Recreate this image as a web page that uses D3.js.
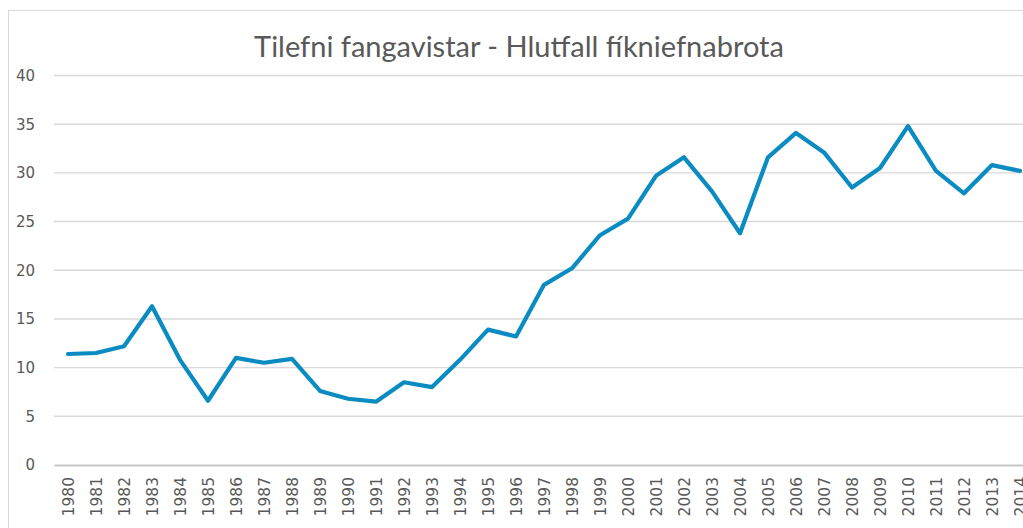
<!DOCTYPE html>
<html>
<head>
<meta charset="utf-8">
<script src="https://cdn.jsdelivr.net/npm/d3@7"></script>
<style>
  html, body { margin: 0; padding: 0; background: #fff; overflow: hidden; }
  svg { display: block; }
</style>
</head>
<body>
<svg id="chart" width="1023" height="528"></svg>
<script>
const title = "Tilefni fangavistar - Hlutfall fíkniefnabrota";
const years = ["1980","1981","1982","1983","1984","1985","1986","1987","1988","1989",
  "1990","1991","1992","1993","1994","1995","1996","1997","1998","1999",
  "2000","2001","2002","2003","2004","2005","2006","2007","2008","2009",
  "2010","2011","2012","2013","2014"];
const values = [11.4, 11.5, 12.2, 16.3, 10.8, 6.6, 11.0, 10.5, 10.9, 7.6,
  6.8, 6.5, 8.5, 8.0, 10.8, 13.9, 13.2, 18.5, 20.2, 23.6,
  25.3, 29.7, 31.6, 28.1, 23.8, 31.6, 34.1, 32.1, 28.5, 30.5,
  34.8, 30.2, 27.9, 30.8, 30.2];
const yTicks = [0, 5, 10, 15, 20, 25, 30, 35, 40];

const svg = d3.select("#chart");
const W = 1023, H = 528;
const textColor = "#595959";
const font = "'DejaVu Sans', sans-serif";

// chart frame
svg.append("rect")
  .attr("x", 8.5).attr("y", 10.5)
  .attr("width", W + 20).attr("height", H + 20)
  .attr("fill", "#fff").attr("stroke", "#d9d9d9").attr("stroke-width", 1);

const x = d3.scaleBand().domain(years).range([54, 54 + 35 * 28]).paddingInner(0).paddingOuter(0);
const y = d3.scaleLinear().domain([0, 40]).range([465, 75.5]);

// gridlines
svg.append("g")
  .selectAll("line")
  .data(yTicks.filter(d => d !== 0))
  .join("line")
  .attr("x1", x.range()[0]).attr("x2", x.range()[1])
  .attr("y1", d => y(d)).attr("y2", d => y(d))
  .attr("stroke", "#d9d9d9").attr("stroke-width", 1.4);

// y axis labels
const yAxis = d3.axisLeft(y).tickValues(yTicks).tickSize(0).tickPadding(0);
const gy = svg.append("g").attr("transform", "translate(35,0)").call(yAxis);
gy.select(".domain").remove();
gy.selectAll("text")
  .attr("fill", textColor)
  .style("font-family", font)
  .style("font-size", "15px");

// x axis
const xAxis = d3.axisBottom(x).tickSize(0).tickPadding(0);
const gx = svg.append("g").attr("transform", `translate(0,${y(0)})`).call(xAxis);
gx.select(".domain").attr("stroke", "#c8c8c8").attr("stroke-width", 2);
gx.selectAll("text")
  .attr("fill", textColor)
  .style("font-family", font)
  .style("font-size", "15.5px")
  .attr("text-anchor", "end")
  .attr("dy", null)
  .attr("y", 0)
  .attr("transform", "translate(5.5,12) rotate(-90)");

// line
const line = d3.line()
  .x((d, i) => x(years[i]) + x.bandwidth() / 2)
  .y(d => y(d));
svg.append("path")
  .datum(values)
  .attr("d", line)
  .attr("fill", "none")
  .attr("stroke", "#0a8cc2")
  .attr("stroke-width", 4.2)
  .attr("stroke-linejoin", "round")
  .attr("stroke-linecap", "round");

// title
svg.append("text")
  .attr("x", 519).attr("y", 57)
  .attr("text-anchor", "middle")
  .attr("fill", textColor)
  .style("font-family", "Lato, 'Open Sans', sans-serif")
  .style("font-size", "29px")
  .text(title);
</script>
</body>
</html>
